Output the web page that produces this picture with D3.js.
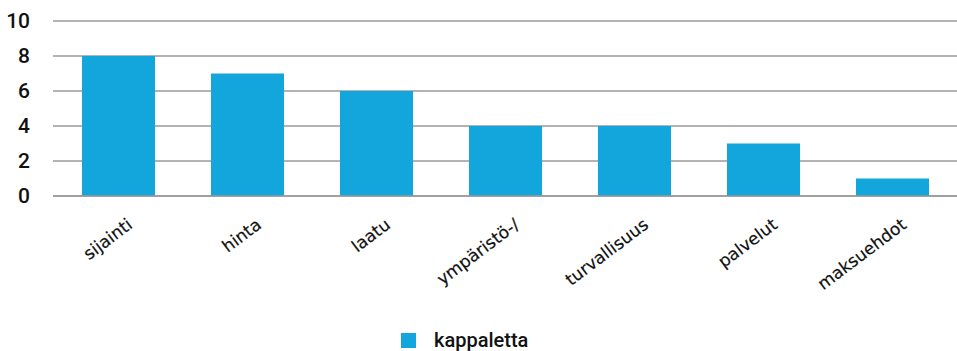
<!DOCTYPE html>
<html>
<head>
<meta charset="utf-8">
<script src="https://cdn.jsdelivr.net/npm/d3@7"></script>
<style>
  body { margin: 0; background: #fff; }
  svg { display: block; }
</style>
</head>
<body>
<svg id="chart" width="957" height="351"></svg>
<script>
const categories = ["sijainti", "hinta", "laatu", "ympäristö-/", "turvallisuus", "palvelut", "maksuehdot"];
const values = [8, 7, 6, 4, 4, 3, 1];
const yTicks = [0, 2, 4, 6, 8, 10];
const seriesName = "kappaletta";

const svg = d3.select("#chart");
const margin = { left: 54, right: 0, top: 21, bottom: 155 };
const W = 957, H = 351;
const barColor = "#12a6dc";

const x = d3.scaleBand().domain(categories)
  .range([margin.left, W - margin.right])
  .paddingInner(0.434).paddingOuter(0.217);
const y = d3.scaleLinear().domain([0, 10]).range([H - margin.bottom, margin.top]);

// gridlines
svg.append("g")
  .selectAll("line").data(yTicks).join("line")
  .attr("x1", 53).attr("x2", W)
  .attr("y1", d => y(d)).attr("y2", d => y(d))
  .attr("stroke", "#9a9a9a").attr("stroke-width", 1.4);

// bars
svg.append("g")
  .selectAll("rect").data(values).join("rect")
  .attr("x", (d, i) => x(categories[i]))
  .attr("width", x.bandwidth())
  .attr("y", d => y(d))
  .attr("height", d => y(0) - y(d))
  .attr("fill", barColor);

// baseline
svg.append("line")
  .attr("x1", 53).attr("x2", W)
  .attr("y1", y(0)).attr("y2", y(0))
  .attr("stroke", "#9a9a9a").attr("stroke-width", 1.6);

// y axis labels
const yAxis = d3.axisLeft(y).tickValues(yTicks).tickSize(0).tickPadding(0);
const gy = svg.append("g").attr("transform", "translate(30,0)").call(yAxis);
gy.select(".domain").remove();
gy.selectAll("text")
  .attr("font-family", "Roboto, sans-serif")
  .attr("font-weight", 500)
  .attr("font-size", 21)
  .attr("fill", "#111");

// x axis labels
const xAxis = d3.axisBottom(x).tickSize(0).tickPadding(0);
const gx = svg.append("g").attr("transform", `translate(0,${y(0)})`).call(xAxis);
gx.select(".domain").remove();
gx.selectAll("text")
  .attr("font-family", "'DejaVu Sans', sans-serif")
  .attr("font-size", 17)
  .attr("fill", "#111")
  .attr("stroke", "#111").attr("stroke-width", 0.2)
  .attr("text-anchor", "end")
  .attr("dy", 0)
  .attr("transform", "translate(15,31) rotate(-37)");

// legend
const lg = svg.append("g").attr("transform", "translate(401,333)");
lg.append("rect").attr("width", 15).attr("height", 15).attr("fill", barColor);
lg.append("text").attr("x", 33).attr("y", 14)
  .attr("font-family", "Roboto, sans-serif").attr("font-weight", 500)
  .attr("font-size", 20).attr("fill", "#111").text(seriesName);
</script>
</body>
</html>
